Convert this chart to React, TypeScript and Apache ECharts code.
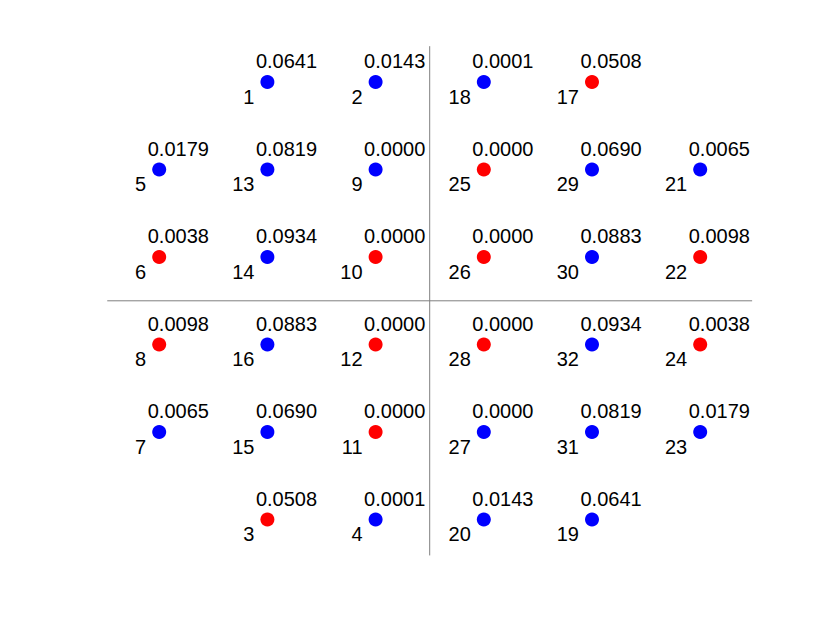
import React, { useEffect, useRef } from "react";
import * as echarts from "echarts";

// Grid positions (data units), channel numbers, p-values and significance flag
const xs = [
  -1.5, -0.5, 0.5, 1.5,
  -2.5, -1.5, -0.5, 0.5, 1.5, 2.5,
  -2.5, -1.5, -0.5, 0.5, 1.5, 2.5,
  -2.5, -1.5, -0.5, 0.5, 1.5, 2.5,
  -2.5, -1.5, -0.5, 0.5, 1.5, 2.5,
  -1.5, -0.5, 0.5, 1.5,
];
const ys = [
  2.5, 2.5, 2.5, 2.5,
  1.5, 1.5, 1.5, 1.5, 1.5, 1.5,
  0.5, 0.5, 0.5, 0.5, 0.5, 0.5,
  -0.5, -0.5, -0.5, -0.5, -0.5, -0.5,
  -1.5, -1.5, -1.5, -1.5, -1.5, -1.5,
  -2.5, -2.5, -2.5, -2.5,
];
const ids = [
  1, 2, 18, 17,
  5, 13, 9, 25, 29, 21,
  6, 14, 10, 26, 30, 22,
  8, 16, 12, 28, 32, 24,
  7, 15, 11, 27, 31, 23,
  3, 4, 20, 19,
];
const values = [
  "0.0641", "0.0143", "0.0001", "0.0508",
  "0.0179", "0.0819", "0.0000", "0.0000", "0.0690", "0.0065",
  "0.0038", "0.0934", "0.0000", "0.0000", "0.0883", "0.0098",
  "0.0098", "0.0883", "0.0000", "0.0000", "0.0934", "0.0038",
  "0.0065", "0.0690", "0.0000", "0.0000", "0.0819", "0.0179",
  "0.0508", "0.0001", "0.0143", "0.0641",
];
// 1 = red, 0 = blue
const isRed = [
  0, 0, 0, 1,
  0, 0, 0, 1, 0, 0,
  1, 0, 1, 1, 0, 1,
  1, 0, 1, 1, 0, 1,
  0, 0, 1, 0, 0, 0,
  1, 0, 0, 0,
];
// Divider lines (data units)
const hLineX = [-2.98, 2.98];
const vLineY = [-2.91, 2.91];

const FONT = "'Liberation Sans', Arial, Helvetica, sans-serif";

export default function App() {
  const ref = useRef<HTMLDivElement>(null);
  useEffect(() => {
    document.body.style.margin = "0";
    const chart = echarts.init(ref.current!, undefined, { renderer: "svg" });
    const pts = xs.map((x, i) => ({
      value: [x, ys[i]],
      itemStyle: { color: isRed[i] ? "#ff0000" : "#0000ff", opacity: 1 },
    }));
    const idPts = xs.map((x, i) => [x, ys[i]]);
    chart.setOption({
      animation: false,
      backgroundColor: "#ffffff",
      grid: { left: 105.1, width: 649.2, top: 38.3, height: 525 },
      xAxis: { type: "value", min: -3, max: 3, show: false },
      yAxis: { type: "value", min: -3, max: 3, show: false },
      series: [
        {
          type: "line",
          data: [[hLineX[0], 0], [hLineX[1], 0]],
          symbol: "none",
          lineStyle: { color: "#7f7f7f", width: 1 },
          silent: true,
        },
        {
          type: "line",
          data: [[0, vLineY[0]], [0, vLineY[1]]],
          symbol: "none",
          lineStyle: { color: "#7f7f7f", width: 1 },
          silent: true,
        },
        {
          type: "scatter",
          symbolSize: 0,
          data: idPts,
          itemStyle: { color: "rgba(0,0,0,0)", opacity: 1 },
          silent: true,
          label: {
            show: true,
            formatter: (p: any) => String(ids[p.dataIndex]),
            position: [-13, 14.5],
            align: "right",
            verticalAlign: "middle",
            fontFamily: FONT,
            fontSize: 20,
            color: "#000000",
          },
        },
        {
          type: "scatter",
          symbolSize: 14,
          data: pts,
          label: {
            show: true,
            formatter: (p: any) => values[p.dataIndex],
            position: [-4.5, -14],
            align: "left",
            verticalAlign: "middle",
            fontFamily: FONT,
            fontSize: 20,
            color: "#000000",
          },
        },
      ],
    });
    return () => chart.dispose();
  }, []);
  return <div ref={ref} style={{ width: 830, height: 623 }} />;
}
